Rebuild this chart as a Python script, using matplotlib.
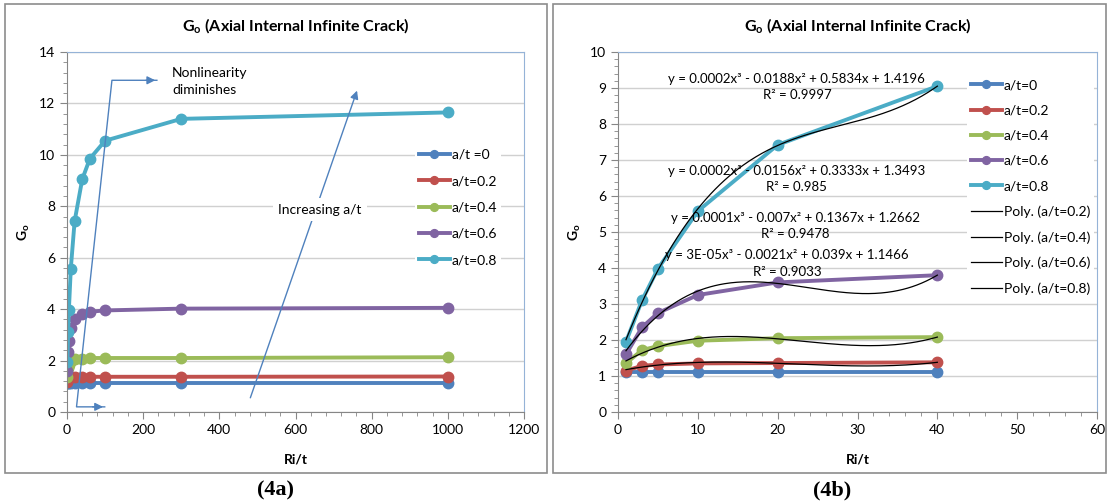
import matplotlib
matplotlib.use('Agg')
import matplotlib.pyplot as plt
import numpy as np
from matplotlib.patches import Rectangle
from matplotlib.ticker import MultipleLocator

plt.rcParams['font.family'] = ['Lato', 'DejaVu Sans']
plt.rcParams['mathtext.fontset'] = 'custom'
plt.rcParams['mathtext.rm'] = 'Lato'
plt.rcParams['mathtext.bf'] = 'Lato:bold'

# data
ri_t = [1, 3, 5, 10, 20, 40, 60, 100, 300, 1000]
g_a00 = [1.12, 1.12, 1.12, 1.12, 1.12, 1.12, 1.12, 1.12, 1.12, 1.12]
g_a02 = [1.15, 1.28, 1.32, 1.35, 1.36, 1.38, 1.37, 1.37, 1.37, 1.38]
g_a04 = [1.35, 1.72, 1.83, 1.98, 2.05, 2.08, 2.10, 2.10, 2.10, 2.13]
g_a06 = [1.60, 2.35, 2.75, 3.25, 3.60, 3.80, 3.90, 3.95, 4.02, 4.05]
g_a08 = [1.95, 3.10, 3.98, 5.58, 7.42, 9.05, 9.85, 10.55, 11.40, 11.65]

labels_a = ['a/t =0', 'a/t=0.2', 'a/t=0.4', 'a/t=0.6', 'a/t=0.8']
labels_b = ['a/t=0', 'a/t=0.2', 'a/t=0.4', 'a/t=0.6', 'a/t=0.8']
colors = ['#4F81BD', '#C0504D', '#9BBB59', '#8064A2', '#4BACC6']
series = [g_a00, g_a02, g_a04, g_a06, g_a08]

equations = [
    'y = 0.0002x³ - 0.0188x² + 0.5834x + 1.4196\nR² = 0.9997',
    'y = 0.0002x³ - 0.0156x² + 0.3333x + 1.3493\nR² = 0.985',
    'y = 0.0001x³ - 0.007x² + 0.1367x + 1.2662\nR² = 0.9478',
    'y = 3E-05x³ - 0.0021x² + 0.039x + 1.1466\nR² = 0.9033',
]
eq_pos = [(22.4, 9.03), (22.4, 6.47), (22.2, 5.17), (21.2, 4.12)]

fig = plt.figure(figsize=(11.09, 5.03), dpi=100)

# panel frames
for x0, w in [(5, 542), (553, 553)]:
    fig.add_artist(Rectangle((x0 / 1109, 30 / 503), w / 1109, 469 / 503,
                             transform=fig.transFigure, fill=False,
                             edgecolor='#8c8c8c', lw=1.2))


def style_axes(ax):
    ax.grid(axis='y', color='#d0d0d0', lw=1)
    ax.set_axisbelow(True)
    for s in ['left', 'bottom']:
        ax.spines[s].set_color('#868686')
    for s in ['top', 'right']:
        ax.spines[s].set_color('#95B3D7')
    ax.tick_params(which='major', direction='out', length=5, color='#868686', labelsize=10)
    ax.tick_params(which='minor', direction='out', length=3, color='#868686')
    ax.set_xlabel('Ri/t', fontsize=10, fontweight='bold', labelpad=13)
    ax.set_ylabel(r'G$_\mathbf{o}$', fontsize=10, fontweight='bold', labelpad=5)
    ax.set_title(r'G$_\mathbf{o}$ (Axial Internal Infinite Crack)', fontsize=11.5,
                 fontweight='bold', pad=15)


leg_kw = dict(loc='upper left', fontsize=10, frameon=True, fancybox=False,
              edgecolor='none', facecolor='white', framealpha=1, handlelength=2.2,
              handletextpad=0.15, borderpad=0.3, markerscale=0.75)

# ---- (4a)
ax1 = fig.add_axes([67 / 1109, 91 / 503, 457 / 1109, 360 / 503])
for ys, c, lab in zip(series, colors, labels_a):
    ax1.plot(ri_t, ys, '-o', color=c, lw=2.8, ms=7.5, label=lab)
ax1.set_xlim(0, 1200)
ax1.set_ylim(0, 14)
ax1.xaxis.set_major_locator(MultipleLocator(200))
ax1.xaxis.set_minor_locator(MultipleLocator(40))
ax1.yaxis.set_major_locator(MultipleLocator(2))
ax1.yaxis.set_minor_locator(MultipleLocator(0.4))
style_axes(ax1)
ax1.legend(bbox_to_anchor=(0.746, 0.762), labelspacing=1.03, **leg_kw)

arrow_kw = dict(arrowstyle='-|>', color='#4F81BD', lw=1, mutation_scale=12)
ax1.plot([236, 118, 25, 99], [12.9, 12.9, 0.2, 0.2], color='#4F81BD', lw=1)
ax1.annotate('', xy=(239, 12.9), xytext=(200, 12.9), arrowprops=arrow_kw)
ax1.annotate('', xy=(102, 0.2), xytext=(60, 0.2), arrowprops=arrow_kw)
ax1.text(276, 12.85, 'Nonlinearity\ndiminishes', fontsize=10, ha='left', va='center',
         linespacing=1.5)
ax1.annotate('', xy=(764, 12.6), xytext=(479, 0.45), arrowprops=arrow_kw)
ax1.text(664, 7.86, 'Increasing a/t', fontsize=10, ha='center', va='center',
         bbox=dict(facecolor='white', edgecolor='none', pad=4))

# ---- (4b)
n_short = 6
ax2 = fig.add_axes([618 / 1109, 91 / 503, 479 / 1109, 360 / 503])
for ys, c, lab in zip(series, colors, labels_b):
    ax2.plot(ri_t[:n_short], ys[:n_short], '-o', color=c, lw=2.8, ms=7.5, label=lab)
xs = np.linspace(ri_t[0], ri_t[n_short - 1], 200)
for ys, c, lab in zip(series[1:], colors[1:], labels_b[1:]):
    coef = np.polyfit(ri_t[:n_short], ys[:n_short], 3)
    ax2.plot(xs, np.polyval(coef, xs), color='black', lw=0.9,
             label='Poly. (' + lab + ')')
for eq, (ex, ey) in zip(equations, eq_pos):
    ax2.text(ex, ey, eq, fontsize=9.5, ha='center', va='center', linespacing=1.45)
ax2.set_xlim(0, 60)
ax2.set_ylim(0, 10)
ax2.xaxis.set_major_locator(MultipleLocator(10))
ax2.xaxis.set_minor_locator(MultipleLocator(2))
ax2.yaxis.set_major_locator(MultipleLocator(1))
ax2.yaxis.set_minor_locator(MultipleLocator(0.2))
style_axes(ax2)
ax2.legend(bbox_to_anchor=(0.714, 0.955), labelspacing=0.95, **leg_kw)

fig.text(275 / 1109, 1 - 490 / 503, '(4a)', fontsize=16, fontweight='bold',
         family='Liberation Serif', ha='center', va='center')
fig.text(832 / 1109, 1 - 490 / 503, '(4b)', fontsize=16, fontweight='bold',
         family='Liberation Serif', ha='center', va='center')

fig.savefig('out.png', dpi=100)
